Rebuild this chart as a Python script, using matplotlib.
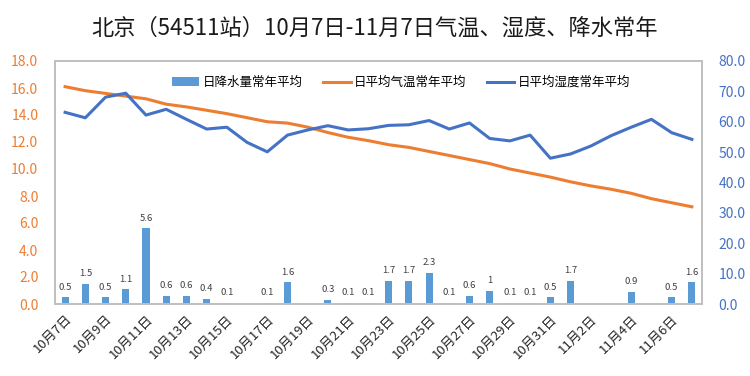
import numpy as np
import matplotlib
matplotlib.use("Agg")
import matplotlib.pyplot as plt

plt.rcParams['font.family'] = ['Noto Sans CJK SC', 'DejaVu Sans']

# ---- data ----
days = ['10月7日', '10月8日', '10月9日', '10月10日', '10月11日', '10月12日', '10月13日',
        '10月14日', '10月15日', '10月16日', '10月17日', '10月18日', '10月19日', '10月20日',
        '10月21日', '10月22日', '10月23日', '10月24日', '10月25日', '10月26日', '10月27日',
        '10月28日', '10月29日', '10月30日', '10月31日', '11月1日', '11月2日', '11月3日',
        '11月4日', '11月5日', '11月6日', '11月7日']
precip = [0.5, 1.5, 0.5, 1.1, 5.6, 0.6, 0.6, 0.4, 0.1, np.nan, 0.1, 1.6, np.nan, 0.3,
          0.1, 0.1, 1.7, 1.7, 2.3, 0.1, 0.6, 1.0, 0.1, 0.1, 0.5, 1.7, np.nan, np.nan,
          0.9, np.nan, 0.5, 1.6]
temp = [16.1, 15.8, 15.6, 15.4, 15.2, 14.8, 14.6, 14.35, 14.1, 13.8, 13.5, 13.4, 13.1, 12.7,
        12.35, 12.1, 11.8, 11.6, 11.3, 11.0, 10.7, 10.4, 10.0, 9.7, 9.4, 9.05, 8.75, 8.5,
        8.2, 7.8, 7.5, 7.2]
humid = [63.1, 61.3, 68.1, 69.4, 62.2, 64.1, 60.8, 57.6, 58.2, 53.2, 50.1, 55.6, 57.3, 58.7,
         57.3, 57.7, 58.8, 59.0, 60.4, 57.6, 59.6, 54.5, 53.7, 55.6, 48.0, 49.4, 52.0, 55.4,
         58.2, 60.8, 56.4, 54.2]

C_BAR = '#5B9BD5'
C_TEMP = '#ED7D31'
C_HUM = '#4472C4'
C_FRAME = '#BFBFBF'

fig = plt.figure(figsize=(7.5, 3.76), dpi=100)
ax = fig.add_axes([55/750, 72/376, 647/750, 243/376])
ax2 = ax.twinx()

x = np.arange(len(days))
bars = ax.bar(x, precip, width=0.35, color=C_BAR, label='日降水量常年平均', zorder=2)
labels = ['' if np.isnan(v) else f'{v:g}' for v in precip]
ax.bar_label(bars, labels=labels, padding=4, fontsize=6.8, color='#404040')
l1, = ax.plot(x, temp, color=C_TEMP, lw=2.2, label='日平均气温常年平均', zorder=3)
l2, = ax2.plot(x, humid, color=C_HUM, lw=2.2, label='日平均湿度常年平均', zorder=3)

ax.set_xlim(-0.5, len(days) - 0.5)
ax.set_ylim(0, 18)
ax.set_yticks(np.arange(0, 18.1, 2))
ax.set_yticklabels([f'{v:.1f}' for v in np.arange(0, 18.1, 2)])
ax2.set_ylim(0, 80)
ax2.set_yticks(np.arange(0, 80.1, 10))
ax2.set_yticklabels([f'{v:.1f}' for v in np.arange(0, 80.1, 10)])

ax.set_xticks(x[::2])
ax.set_xticklabels(days[::2], rotation=45, ha='right', rotation_mode='anchor', fontsize=9.5,
                   color='#262626')
ax.tick_params(axis='x', length=0, pad=6)
ax.tick_params(axis='y', length=0, pad=12, labelsize=10, labelcolor=C_TEMP)
ax2.tick_params(axis='y', length=0, pad=12, labelsize=10, labelcolor=C_HUM)

for a in (ax, ax2):
    for s in a.spines.values():
        s.set_color(C_FRAME)
        s.set_linewidth(1.2)

ax.legend(handles=[bars, l1, l2], loc='upper center', bbox_to_anchor=(0.535, 0.985),
          ncol=3, frameon=False, fontsize=9, columnspacing=1.6, handlelength=2.2,
          handletextpad=0.3)

fig.text(0.5, 0.925, '北京（54511站）10月7日-11月7日气温、湿度、降水常年',
         ha='center', va='center', fontsize=16, color='#1a1a1a')

fig.savefig('out.png', dpi=100)
